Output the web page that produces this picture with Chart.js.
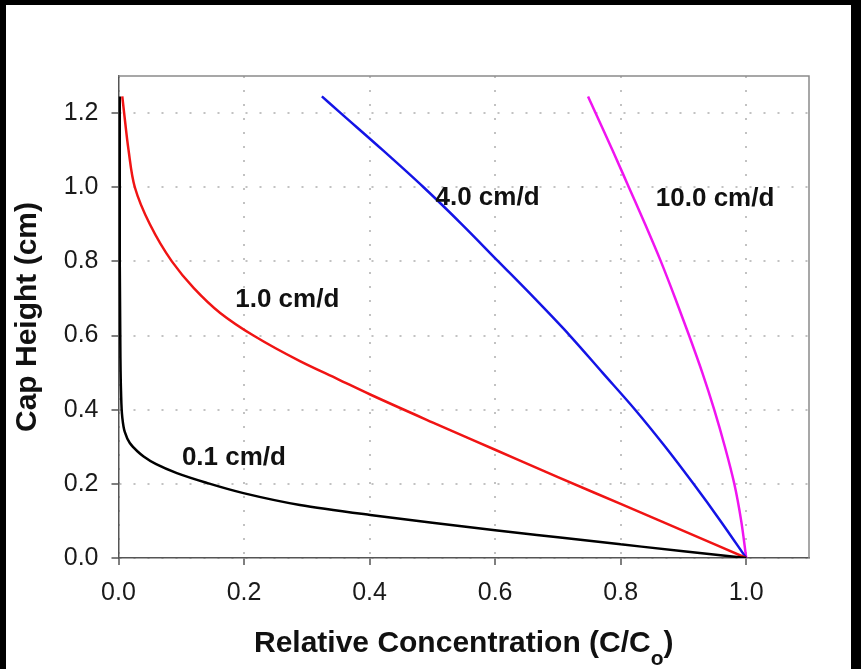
<!DOCTYPE html>
<html><head><meta charset="utf-8">
<script src="https://cdn.jsdelivr.net/npm/chart.js@4/dist/chart.umd.min.js"></script>
<style>
html,body{margin:0;padding:0;background:#000;width:861px;height:669px;overflow:hidden}
#wrap{position:absolute;left:6px;top:5px;width:845px;height:664px;background:#fff}
</style></head><body>
<div id="wrap"><canvas id="c"></canvas></div>
<script>
// ---- data (relative concentration C/Co vs cap height in cm) ----
const seriesNames = ['0.1 cm/d', '1.0 cm/d', '4.0 cm/d', '10.0 cm/d'];
const height01 = [1.245, 0.800, 0.550, 0.450, 0.380, 0.340, 0.310, 0.288, 0.274, 0.253, 0.229, 0.203, 0.175, 0.143, 0.116, 0.095, 0.075, 0.056, 0.037, 0.018, 0.000];
const conc01   = [0.002, 0.002, 0.003, 0.004, 0.006, 0.010, 0.018, 0.030, 0.040, 0.060, 0.093, 0.140, 0.199, 0.289, 0.401, 0.500, 0.600, 0.700, 0.800, 0.900, 1.000];
const height10 = [1.245, 1.200, 1.100, 1.000, 0.900, 0.800, 0.728, 0.661, 0.600, 0.531, 0.482, 0.441, 0.366, 0.292, 0.218, 0.146, 0.073, 0.000];
const conc10   = [0.006, 0.009, 0.016, 0.026, 0.050, 0.085, 0.120, 0.162, 0.215, 0.289, 0.350, 0.401, 0.500, 0.600, 0.700, 0.800, 0.900, 1.000];
const height40 = [1.245, 1.200, 1.100, 1.000, 0.900, 0.800, 0.700, 0.600, 0.500, 0.400, 0.300, 0.200, 0.100, 0.000];
const conc40   = [0.324, 0.354, 0.421, 0.486, 0.547, 0.605, 0.663, 0.719, 0.771, 0.823, 0.871, 0.916, 0.959, 1.000];
const height100 = [1.245, 1.200, 1.100, 1.000, 0.900, 0.800, 0.700, 0.600, 0.500, 0.400, 0.300, 0.200, 0.100, 0.000];
const conc100   = [0.748, 0.760, 0.787, 0.813, 0.839, 0.864, 0.887, 0.909, 0.930, 0.949, 0.966, 0.981, 0.992, 1.000];
const xTickLabels = ['0.0', '0.2', '0.4', '0.6', '0.8', '1.0'];
const yTickLabels = ['0.0', '0.2', '0.4', '0.6', '0.8', '1.0', '1.2'];
const xTitle = 'Relative Concentration (C/C';
const xTitleSub = 'o';
const yTitle = 'Cap Height (cm)';

const FAM = '"Liberation Sans", Arial, Helvetica, sans-serif';
Chart.defaults.font.family = FAM;

function pts(xs, ys) { return xs.map((x, i) => ({x: x, y: ys[i]})); }

// label anchors (data coordinates: left edge, vertical middle)
const labelAnchors = [
  {text: seriesNames[0], x: 0.101, y: 0.269},
  {text: seriesNames[1], x: 0.186, y: 0.697},
  {text: seriesNames[2], x: 0.505, y: 0.972},
  {text: seriesNames[3], x: 0.856, y: 0.969}
];

const framePlugin = {
  id: 'frame',
  beforeDatasetsDraw(chart) {
    const a = chart.chartArea, ctx = chart.ctx;
    ctx.save();
    ctx.strokeStyle = '#8a8a8a';
    ctx.lineWidth = 1.5;
    ctx.beginPath();
    ctx.moveTo(a.left, a.top);
    ctx.lineTo(a.right, a.top);
    ctx.lineTo(a.right, a.bottom);
    ctx.stroke();
    ctx.restore();
  }
};

const labelPlugin = {
  id: 'curveLabels',
  afterDatasetsDraw(chart) {
    const ctx = chart.ctx, xs = chart.scales.x, ys = chart.scales.y;
    ctx.save();
    ctx.font = 'bold 26px ' + FAM;
    ctx.fillStyle = '#111';
    ctx.textAlign = 'left';
    ctx.textBaseline = 'middle';
    labelAnchors.forEach(l => {
      ctx.fillText(l.text, xs.getPixelForValue(l.x), ys.getPixelForValue(l.y));
    });
    ctx.restore();
  }
};

const xTitlePlugin = {
  id: 'xTitle',
  afterDraw(chart) {
    const ctx = chart.ctx, a = chart.chartArea;
    ctx.save();
    ctx.fillStyle = '#111';
    ctx.textBaseline = 'alphabetic';
    ctx.textAlign = 'left';
    const big = 'bold 30px ' + FAM, small = 'bold 21px ' + FAM;
    ctx.font = big;
    const w1 = ctx.measureText(xTitle).width;
    const w3 = ctx.measureText(')').width;
    ctx.font = small;
    const w2 = ctx.measureText(xTitleSub).width;
    const total = w1 + w2 + w3;
    const cx = (a.left + a.right) / 2;
    let x = cx - total / 2;
    const base = a.bottom + 94;
    ctx.font = big;
    ctx.fillText(xTitle, x, base);
    x += w1;
    ctx.font = small;
    ctx.fillText(xTitleSub, x, base + 13);
    x += w2;
    ctx.font = big;
    ctx.fillText(')', x, base);
    ctx.restore();
  }
};

const gridCommon = {
  color: '#c2c2c2',
  lineWidth: 2,
  tickColor: '#555',
  tickWidth: 1.5,
  tickLength: 7,
  tickBorderDash: []
};

new Chart(document.getElementById('c'), {
  type: 'line',
  data: {
    datasets: [
      {label: seriesNames[0], data: pts(conc01, height01), borderColor: '#000000'},
      {label: seriesNames[1], data: pts(conc10, height10), borderColor: '#f01414'},
      {label: seriesNames[2], data: pts(conc40, height40), borderColor: '#1414e6'},
      {label: seriesNames[3], data: pts(conc100, height100), borderColor: '#f014f0'}
    ].map(d => Object.assign(d, {pointRadius: 0, borderWidth: 2.5, cubicInterpolationMode: 'monotone', fill: false}))
  },
  options: {
    indexAxis: 'y',
    responsive: true,
    maintainAspectRatio: false,
    animation: false,
    events: [],
    layout: {padding: {left: 0, top: 71, right: 42, bottom: 0}},
    plugins: {legend: {display: false}, tooltip: {enabled: false}},
    scales: {
      x: {
        type: 'linear', min: 0, max: 1.1, offset: false,
        afterFit(s) { s.height = 111; },
        ticks: {
          stepSize: 0.2, includeBounds: false, padding: 13,
          color: '#1a1a1a', font: {size: 25},
          maxRotation: 0, autoSkip: false,
          callback: (v) => { const i = Math.round(v / 0.2); return xTickLabels[i] !== undefined && Math.abs(v - i * 0.2) < 1e-6 ? xTickLabels[i] : ''; }
        },
        grid: gridCommon,
        border: {display: true, color: '#555', width: 1.5, dash: [2, 12]}
      },
      y: {
        type: 'linear', min: 0, max: 1.3, offset: false,
        afterFit(s) { s.width = 112.5; },
        ticks: {
          stepSize: 0.2, includeBounds: false, padding: 13,
          color: '#1a1a1a', font: {size: 25},
          callback: (v) => { const i = Math.round(v / 0.2); return yTickLabels[i] !== undefined && Math.abs(v - i * 0.2) < 1e-6 ? yTickLabels[i] : ''; }
        },
        grid: gridCommon,
        border: {display: true, color: '#555', width: 1.5, dash: [2, 12]},
        title: {display: true, text: yTitle, color: '#111', font: {size: 30, weight: 'bold'}, padding: {top: 4, bottom: 0}}
      }
    }
  },
  plugins: [framePlugin, labelPlugin, xTitlePlugin]
});
</script>
</body></html>
